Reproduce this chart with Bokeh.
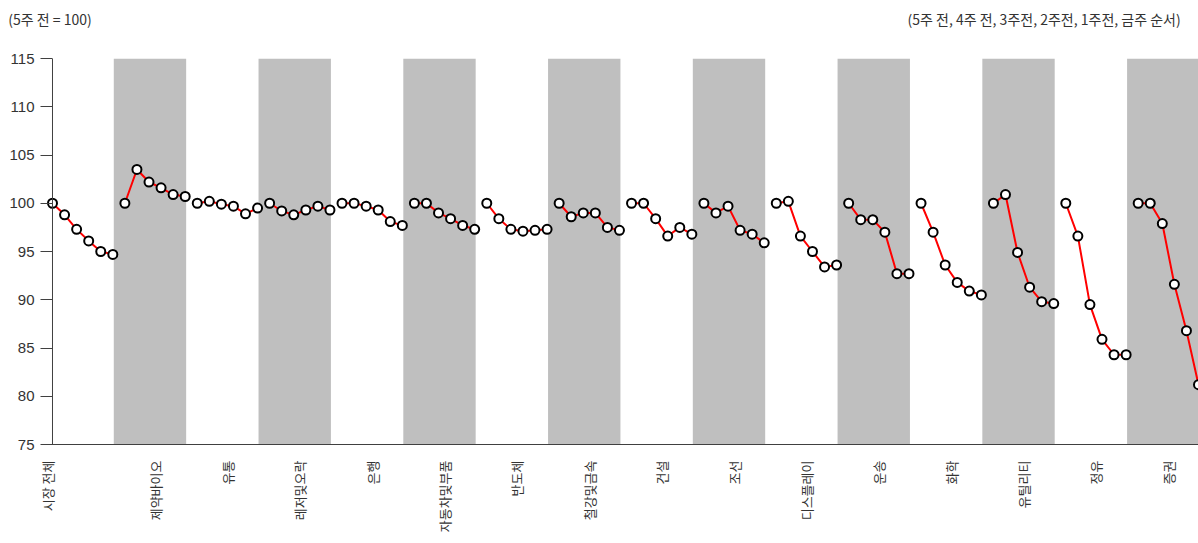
import math

from bokeh.plotting import figure
from bokeh.models import Range1d, FixedTicker, Span, LinearAxis
from bokeh.embed import file_html
from bokeh.resources import INLINE

# Sectors, in display order
sectors = ["시장 전체", "제약바이오", "유통", "레저및오락", "은행", "자동차및부품",
           "반도체", "철강및금속", "건설", "조선", "디스플레이", "운송", "화학",
           "유틸리티", "정유", "증권"]

# Weekly points within each sector (5주 전 = 100)
weeks = ["5주 전", "4주 전", "3주전", "2주전", "1주전", "금주"]

market    = [100.0, 98.8, 97.3, 96.1, 95.0, 94.7]
pharma    = [100.0, 103.5, 102.2, 101.6, 100.9, 100.7]
retail    = [100.0, 100.2, 99.9, 99.7, 98.9, 99.5]
leisure   = [100.0, 99.2, 98.8, 99.3, 99.7, 99.3]
bank      = [100.0, 100.0, 99.7, 99.3, 98.1, 97.7]
auto      = [100.0, 100.0, 99.0, 98.4, 97.7, 97.3]
semicon   = [100.0, 98.4, 97.3, 97.1, 97.2, 97.3]
steel     = [100.0, 98.6, 99.0, 99.0, 97.5, 97.2]
construct = [100.0, 100.0, 98.4, 96.6, 97.5, 96.8]
shipbuild = [100.0, 99.0, 99.7, 97.2, 96.8, 95.9]
display   = [100.0, 100.2, 96.6, 95.0, 93.4, 93.6]
transport = [100.0, 98.3, 98.3, 97.0, 92.7, 92.7]
chemical  = [100.0, 97.0, 93.6, 91.8, 90.9, 90.5]
utility   = [100.0, 100.9, 94.9, 91.3, 89.8, 89.6]
refining  = [100.0, 96.6, 89.5, 85.9, 84.3, 84.3]
securities = [100.0, 100.0, 97.9, 91.6, 86.8, 81.2]

y_ticks = [75, 80, 85, 90, 95, 100, 105, 110, 115]

note_left = "(5주 전 = 100)"
note_right = "(" + ", ".join(weeks) + " 순서)"

series = [market, pharma, retail, leisure, bank, auto, semicon, steel,
          construct, shipbuild, display, transport, chemical, utility,
          refining, securities]

n = len(weeks)
last = len(sectors) * n - 1
xs = [[c * n + j for j in range(n)] for c in range(len(sectors))]

p = figure(width=1198, height=543,
           x_range=Range1d(-0.58, last), y_range=Range1d(y_ticks[0], y_ticks[-1]),
           output_backend="svg", toolbar_location=None,
           min_border_left=45, min_border_right=0,
           min_border_top=58, min_border_bottom=99)
p.outline_line_color = None
p.xgrid.visible = False
p.ygrid.visible = False
p.background_fill_color = "white"
p.border_fill_color = "white"

# alternating grey bands behind every second sector
band_left = [c * n - 0.92 for c in range(1, len(sectors), 2)]
band_right = [c * n + n - 0.92 for c in range(1, len(sectors), 2)]
p.quad(left=band_left, right=band_right, bottom=y_ticks[0], top=y_ticks[-1],
       fill_color="#bfbfbf", line_color=None)

# one red line per sector, white markers
p.multi_line(xs=xs, ys=series, line_color="#ff0000", line_width=2)
flat_x = [x for row in xs for x in row]
flat_y = [y for row in series for y in row]
p.scatter(flat_x, flat_y, marker="circle", size=9, fill_color="white",
          line_color="black", line_width=2)

axis_color = "#404040"
text_color = "#333333"
kr_font = "Noto Sans CJK KR"

# x axis: baseline plus rotated sector names
label_x = [c * n + 2.5 for c in range(len(sectors))]
label_x[0] = -0.4
p.xaxis.ticker = FixedTicker(ticks=label_x)
p.xaxis.major_label_overrides = {x: s for x, s in zip(label_x, sectors)}
p.xaxis.major_label_orientation = math.pi / 2
p.xaxis.axis_line_color = axis_color
p.xaxis.major_tick_line_color = None
p.xaxis.major_tick_in = 0
p.xaxis.major_tick_out = 0
p.xaxis.minor_tick_line_color = None
p.xaxis.major_label_standoff = 16
p.xaxis.major_label_text_font = kr_font
p.xaxis.major_label_text_font_size = "13px"
p.xaxis.major_label_text_color = text_color

# y axis: ticks and labels, line drawn at x = 0
p.yaxis.ticker = FixedTicker(ticks=y_ticks)
p.yaxis.axis_line_color = None
p.yaxis.major_tick_in = 7
p.yaxis.major_tick_out = 5
p.yaxis.major_tick_line_color = axis_color
p.yaxis.minor_tick_line_color = None
p.yaxis.major_label_text_font = "Liberation Sans"
p.yaxis.major_label_text_font_size = "15px"
p.yaxis.major_label_text_color = text_color
p.yaxis.major_label_standoff = 6
p.add_layout(Span(location=0, dimension="height", line_color=axis_color, line_width=1))

# header notes, carried by a bare axis above the frame
note_pos = [-0.2, 82.2]
top_axis = LinearAxis(ticker=FixedTicker(ticks=note_pos),
                      major_label_overrides={note_pos[0]: note_left, note_pos[1]: note_right},
                      axis_line_color=None, major_tick_line_color=None,
                      major_tick_in=0, major_tick_out=0,
                      minor_tick_line_color=None, major_label_standoff=30,
                      major_label_text_font=kr_font, major_label_text_font_size="14px",
                      major_label_text_color=text_color)
p.add_layout(top_axis, "above")

open("out.html", "w").write(file_html(p, INLINE))
